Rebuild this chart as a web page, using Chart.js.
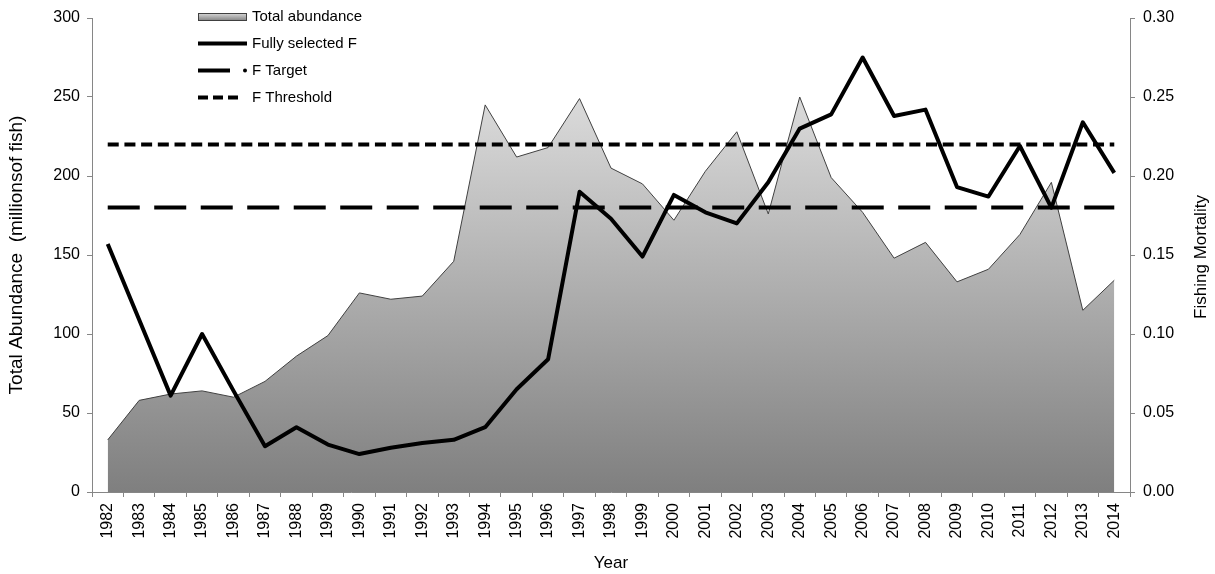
<!DOCTYPE html>
<html>
<head>
<meta charset="utf-8">
<script src="https://cdn.jsdelivr.net/npm/chart.js@4/dist/chart.umd.min.js"></script>
<style>
  html, body { margin: 0; padding: 0; background: #fff; }
  #wrap { width: 1215px; height: 574px; position: relative; }
</style>
</head>
<body>
<div id="wrap"><canvas id="c" width="1215" height="574"></canvas></div>
<script>
const years = ['1982','1983','1984','1985','1986','1987','1988','1989','1990','1991','1992','1993','1994','1995','1996','1997','1998','1999','2000','2001','2002','2003','2004','2005','2006','2007','2008','2009','2010','2011','2012','2013','2014'];

// Total abundance (millions of fish), left axis
const totalAbundance = [33, 58, 62, 64, 60, 70, 86, 99, 126, 122, 124, 146, 245, 212, 218, 249, 205, 195, 172, 203, 228, 176, 250, 199, 177, 148, 158, 133, 141, 163, 196, 115, 134];

// Fully selected F, right axis
const fullySelectedF = [0.157, 0.109, 0.061, 0.100, 0.064, 0.029, 0.041, 0.030, 0.024, 0.028, 0.031, 0.033, 0.041, 0.065, 0.084, 0.190, 0.173, 0.149, 0.188, 0.177, 0.170, 0.196, 0.230, 0.239, 0.275, 0.238, 0.242, 0.193, 0.187, 0.219, 0.180, 0.234, 0.202];

// Reference points
const fTarget = [0.18, 0.18, 0.18, 0.18, 0.18, 0.18, 0.18, 0.18, 0.18, 0.18, 0.18, 0.18, 0.18, 0.18, 0.18, 0.18, 0.18, 0.18, 0.18, 0.18, 0.18, 0.18, 0.18, 0.18, 0.18, 0.18, 0.18, 0.18, 0.18, 0.18, 0.18, 0.18, 0.18];
const fThreshold = [0.22, 0.22, 0.22, 0.22, 0.22, 0.22, 0.22, 0.22, 0.22, 0.22, 0.22, 0.22, 0.22, 0.22, 0.22, 0.22, 0.22, 0.22, 0.22, 0.22, 0.22, 0.22, 0.22, 0.22, 0.22, 0.22, 0.22, 0.22, 0.22, 0.22, 0.22, 0.22, 0.22];

const legendLabels = ['Total abundance', 'Fully selected F', 'F Target', 'F Threshold'];

const FONT = '"Liberation Sans", Arial, sans-serif';
const AXIS = '#868686';
const TICK_SIZE = 16;
const TITLE_SIZE = 17;

function areaGradient(ctx) {
  const chart = ctx.chart;
  const ca = chart.chartArea;
  if (!ca) return '#aaaaaa';
  const yTop = chart.scales.y.getPixelForValue(Math.max(...totalAbundance));
  const g = chart.ctx.createLinearGradient(0, yTop, 0, ca.bottom);
  g.addColorStop(0, '#dbdbdb');
  g.addColorStop(1, '#7f7f7f');
  return g;
}

const customDraw = {
  id: 'customDraw',
  afterDraw(chart) {
    const c = chart.ctx;
    c.save();
    // right axis title (reads bottom to top, like the left one)
    const ca = chart.chartArea;
    c.fillStyle = '#000';
    c.font = TITLE_SIZE + 'px ' + FONT;
    c.textAlign = 'center';
    c.textBaseline = 'middle';
    c.translate(1201, (ca.top + ca.bottom) / 2 + 2);
    c.rotate(-Math.PI / 2);
    c.fillText('Fishing Mortality', 0, 0);
    c.restore();

    // legend
    c.save();
    const x0 = 198, x1 = 247, tx = 252;
    const rows = [17, 43.5, 70.5, 97.5];
    c.font = '15px ' + FONT;
    c.textAlign = 'left';
    c.textBaseline = 'middle';
    const g = c.createLinearGradient(0, rows[0] - 4, 0, rows[0] + 4);
    g.addColorStop(0, '#dbdbdb');
    g.addColorStop(1, '#7f7f7f');
    c.fillStyle = g;
    c.fillRect(x0, rows[0] - 4, x1 - x0, 8);
    c.strokeStyle = '#404040';
    c.lineWidth = 1;
    c.strokeRect(x0 + 0.5, rows[0] - 3.5, x1 - x0 - 1, 7);
    c.fillStyle = '#000';
    c.fillText(legendLabels[0], tx, rows[0]);
    c.strokeStyle = '#000';
    c.lineWidth = 4;
    c.beginPath(); c.moveTo(x0, rows[1]); c.lineTo(x1, rows[1]); c.stroke();
    c.fillText(legendLabels[1], tx, rows[1]);
    c.beginPath(); c.moveTo(x0, rows[2]); c.lineTo(x0 + 32, rows[2]); c.stroke();
    c.beginPath(); c.arc(245, rows[2], 2, 0, Math.PI * 2); c.fill();
    c.fillText(legendLabels[2], tx, rows[2]);
    c.setLineDash([10, 5]);
    c.beginPath(); c.moveTo(x0, rows[3]); c.lineTo(x1 - 4, rows[3]); c.stroke();
    c.setLineDash([]);
    c.fillText(legendLabels[3], tx, rows[3]);
    c.restore();
  }
};

new Chart(document.getElementById('c'), {
  type: 'line',
  data: {
    labels: years,
    datasets: [
      {
        label: legendLabels[1],
        data: fullySelectedF,
        yAxisID: 'y1',
        borderColor: '#000',
        borderWidth: 4,
        pointRadius: 0,
        tension: 0,
        fill: false,
        borderJoinStyle: 'round',
        order: 0
      },
      {
        label: legendLabels[2],
        data: fTarget,
        yAxisID: 'y1',
        borderColor: '#000',
        borderWidth: 4,
        borderDash: [32, 14.5],
        pointRadius: 0,
        fill: false,
        order: 1
      },
      {
        label: legendLabels[3],
        data: fThreshold,
        yAxisID: 'y1',
        borderColor: '#000',
        borderWidth: 4,
        borderDash: [11, 5.7],
        pointRadius: 0,
        fill: false,
        order: 2
      },
      {
        label: legendLabels[0],
        data: totalAbundance,
        yAxisID: 'y',
        borderColor: '#404040',
        borderWidth: 1,
        backgroundColor: areaGradient,
        fill: 'origin',
        pointRadius: 0,
        tension: 0,
        order: 10
      }
    ]
  },
  options: {
    responsive: false,
    animation: false,
    devicePixelRatio: 1,
    layout: { padding: { top: 18, left: 0, right: 0, bottom: 0 } },
    plugins: {
      legend: { display: false },
      tooltip: { enabled: false }
    },
    scales: {
      x: {
        type: 'category',
        offset: true,
        grid: { display: true, offset: true, drawOnChartArea: false, drawTicks: true, tickLength: 5, color: AXIS },
        border: { display: true, color: AXIS, width: 1 },
        ticks: { color: '#000', font: { family: FONT, size: TICK_SIZE }, minRotation: 90, maxRotation: 90, padding: 6, autoSkip: false },
        title: { display: true, text: 'Year', color: '#000', font: { family: FONT, size: TITLE_SIZE }, padding: { top: 0, bottom: 0 } },
        afterFit(s) { s.height = 82; }
      },
      y: {
        position: 'left',
        min: 0, max: 300,
        ticks: { stepSize: 50, color: '#000', font: { family: FONT, size: TICK_SIZE }, padding: 7 },
        grid: { display: true, drawOnChartArea: false, drawTicks: true, tickLength: 5, color: AXIS },
        border: { display: true, color: AXIS, width: 1 },
        title: { display: true, text: 'Total Abundance  (millionsof fish)', color: '#000', font: { family: FONT, size: 19 }, padding: { top: 5, bottom: 0 } },
        afterFit(s) { s.width = 92; }
      },
      y1: {
        position: 'right',
        min: 0, max: 0.3,
        ticks: { stepSize: 0.05, color: '#000', font: { family: FONT, size: TICK_SIZE }, padding: 8, callback: v => Number(v).toFixed(2) },
        grid: { display: true, drawOnChartArea: false, drawTicks: true, tickLength: 5, color: AXIS },
        border: { display: true, color: AXIS, width: 1 },
        title: { display: false },
        afterFit(s) { s.width = 85; }
      }
    }
  },
  plugins: [customDraw]
});
</script>
</body>
</html>
